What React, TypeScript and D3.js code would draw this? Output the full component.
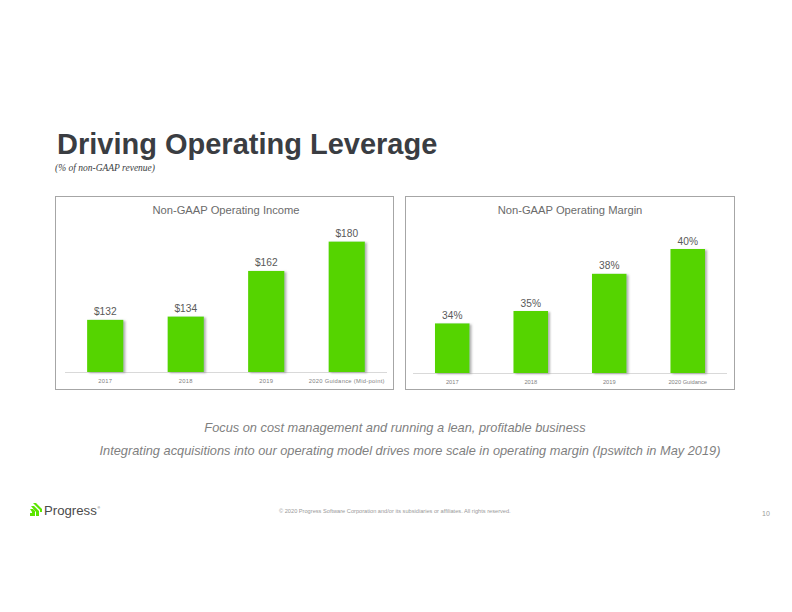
import React from "react";
import * as d3 from "d3";

const incomeCategories = ["2017", "2018", "2019", "2020 Guidance (Mid-point)"];
const incomeValues = [132, 134, 162, 180];
const incomeLabels = ["$132", "$134", "$162", "$180"];

const marginCategories = ["2017", "2018", "2019", "2020 Guidance"];
const marginValues = [34, 35, 38, 40];
const marginLabels = ["34%", "35%", "38%", "40%"];

const FONT = "'Liberation Sans', Arial, Helvetica, sans-serif";
const GREEN = "#55d400";

type PanelProps = {
  title: string;
  cats: string[];
  vals: number[];
  labels: string[];
  box: [number, number, number, number];
  plotX: [number, number];
  base: number;
  domain: [number, number];
  top: number;
  padding: number;
  catSize: number;
  catSpacing: number;
  labelGap: number;
};

function Panel(p: PanelProps) {
  const x = d3
    .scaleBand<string>()
    .domain(p.cats)
    .range(p.plotX)
    .paddingInner(p.padding)
    .paddingOuter(p.padding / 2);
  const y = d3.scaleLinear().domain(p.domain).range([p.base, p.top]);
  const [bx, by, bw, bh] = p.box;
  return (
    <g>
      <rect x={bx + 0.5} y={by + 0.5} width={bw} height={bh} fill="#fff" stroke="#a6a6a6" strokeWidth={1} />
      <text x={(p.plotX[0] + p.plotX[1]) / 2} y={214} textAnchor="middle" fontFamily={FONT} fontSize={11.2} fill="#6b6b6b">
        {p.title}
      </text>
      <line x1={p.plotX[0]} x2={p.plotX[1]} y1={p.base + 0.5} y2={p.base + 0.5} stroke="#d9d9d9" strokeWidth={1} />
      {p.cats.map((c, i) => (
        <g key={c}>
          <rect
            x={x(c)!}
            y={y(p.vals[i])}
            width={x.bandwidth()}
            height={p.base - y(p.vals[i])}
            fill={GREEN}
            filter="url(#shadow)"
          />
          <text
            x={x(c)! + x.bandwidth() / 2}
            y={y(p.vals[i]) - p.labelGap}
            textAnchor="middle"
            fontFamily={FONT}
            fontSize={10.2}
            fill="#595959"
          >
            {p.labels[i]}
          </text>
          <text
            x={x(c)! + x.bandwidth() / 2}
            y={p.base + 11}
            textAnchor="middle"
            fontFamily={FONT}
            fontSize={p.catSize}
            letterSpacing={p.catSpacing}
            fill="#7f7f7f"
          >
            {c}
          </text>
        </g>
      ))}
    </g>
  );
}

export default function App() {
  return (
    <svg
      width={792}
      height={612}
      viewBox="0 0 792 612"
      style={{ position: "absolute", left: 0, top: 0, display: "block", background: "#fff" }}
    >
      <defs>
        <filter id="shadow" x="-20%" y="-10%" width="150%" height="130%">
          <feDropShadow dx={2} dy={1} stdDeviation={1} floodColor="#7f7f7f" floodOpacity={0.6} />
        </filter>
      </defs>
      <rect x={0} y={0} width={792} height={612} fill="#fff" />
      <text x={57} y={154} fontFamily={FONT} fontWeight="bold" fontSize={29} fill="#3a3d42">
        Driving Operating Leverage
      </text>
      <text x={55} y={171} fontFamily="'Liberation Serif', 'Times New Roman', serif" fontStyle="italic" fontSize={9.5} fill="#3a3d42">
        (% of non-GAAP revenue)
      </text>

      <Panel
        title="Non-GAAP Operating Income"
        cats={incomeCategories}
        vals={incomeValues}
        labels={incomeLabels}
        box={[55, 196, 338, 193]}
        plotX={[65, 387]}
        base={372}
        domain={[100, 200]}
        top={209}
        padding={0.55}
        catSize={5.8}
        catSpacing={0.3}
        labelGap={5}
      />
      <Panel
        title="Non-GAAP Operating Margin"
        cats={marginCategories}
        vals={marginValues}
        labels={marginLabels}
        box={[405, 196, 329, 193]}
        plotX={[413, 727]}
        base={373}
        domain={[30, 42]}
        top={224.2}
        padding={0.56}
        catSize={5.7}
        catSpacing={0}
        labelGap={4.5}
      />

      <text x={395} y={432} textAnchor="middle" fontFamily={FONT} fontStyle="italic" fontSize={12.8} fill="#7f7f7f">
        Focus on cost management and running a lean, profitable business
      </text>
      <text x={410} y={455} textAnchor="middle" fontFamily={FONT} fontStyle="italic" fontSize={12.8} fill="#7f7f7f">
        Integrating acquisitions into our operating model drives more scale in operating margin (Ipswitch in May 2019)
      </text>

      <g fill="#5ce500">
        <polygon points="33,503 36,503 42,509 42,512 40,512 40,510" />
        <polygon points="31,506 34,506 39,511 39,516 36,516 36,512" />
        <polygon points="30,509 33,509 35,511 35,516 32,516 32,512" />
        <rect x={30} y={513} width={2} height={3} />
      </g>
      <text x={44} y={515} fontFamily={FONT} fontSize={13.2} fill="#4a4a4a">
        Progress
      </text>
      <text x={97.5} y={509} fontFamily={FONT} fontSize={3.5} fill="#4a4a4a">®</text>

      <text x={279} y={513} fontFamily={FONT} fontSize={5.65} fill="#9a9a9a">
        © 2020 Progress Software Corporation and/or its subsidiaries or affiliates. All rights reserved.
      </text>
      <text x={762} y={516} fontFamily={FONT} fontSize={7} fill="#9a9a9a">
        10
      </text>
    </svg>
  );
}
